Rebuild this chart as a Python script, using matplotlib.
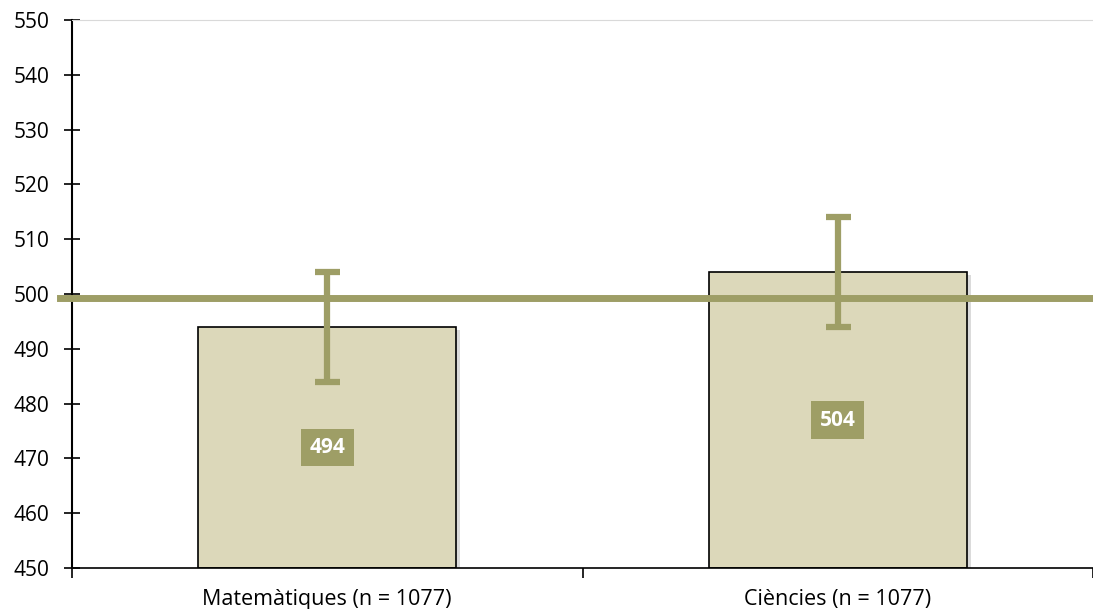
import matplotlib.pyplot as plt
from matplotlib import patheffects as pe

plt.rcParams['font.family'] = ['Open Sans', 'DejaVu Sans']

# Data
categories = ['Matemàtiques (n = 1077)', 'Ciències (n = 1077)']
scores = [494, 504]
errors = [10, 10]
reference = 499.3

bar_color = '#DCD8BA'
olive = '#9E9E66'

fig = plt.figure(figsize=(10.93, 6.09), dpi=100)
ax = fig.add_axes([72 / 1093, 1 - 568 / 609, (1093 - 72) / 1093, (568 - 20) / 609])

x = range(len(categories))
bars = ax.bar(x, [s - 450 for s in scores], bottom=450, width=0.505, color=bar_color,
              edgecolor='black', linewidth=1.2, zorder=2)
for b in bars:
    b.set_path_effects([pe.SimplePatchShadow(offset=(3, -2), shadow_rgbFace='#888888', alpha=0.3),
                        pe.Normal()])

ax.errorbar(x, scores, yerr=errors, fmt='none', ecolor=olive, elinewidth=4.5,
            capsize=9, capthick=4.5, zorder=4)

ax.axhline(reference, xmin=-0.012, xmax=1, color=olive, linewidth=5, clip_on=False, zorder=3)

for i, s in enumerate(scores):
    ax.text(i, (450 + s) / 2, str(s), ha='center', va='center', color='white',
            fontsize=15, fontweight='bold', zorder=5,
            bbox=dict(boxstyle='square,pad=0.4', facecolor=olive, edgecolor='none'))

ax.set_ylim(450, 550)
ax.set_xlim(-0.5, 1.5)
ax.set_yticks(range(450, 551, 10))
ax.set_xticks(list(x))
ax.set_xticklabels(categories, fontsize=15.5)
ax.set_xticks([-0.5, 0.5, 1.5], minor=True)
ax.tick_params(axis='x', which='major', length=0, pad=15)
ax.tick_params(axis='x', which='minor', length=7, width=1.2, direction='out')
ax.tick_params(axis='y', labelsize=15, length=11, width=1.2, direction='inout', pad=11)

ax.spines['right'].set_visible(False)
ax.spines['top'].set_color('#D9D9D9')
ax.spines['left'].set_linewidth(1.5)
ax.spines['bottom'].set_linewidth(1.2)

fig.savefig('out.png', dpi=100)
